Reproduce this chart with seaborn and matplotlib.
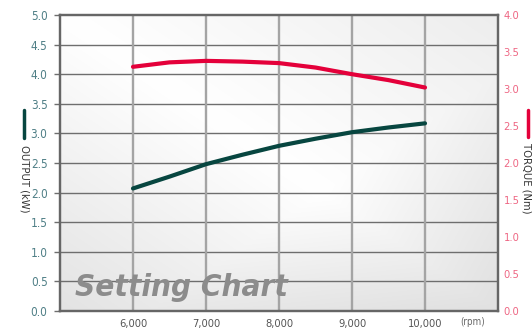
import numpy as np
import pandas as pd
import seaborn as sns
import matplotlib.pyplot as plt
from matplotlib.lines import Line2D

# values
rpm = [6000, 6500, 7000, 7500, 8000, 8500, 9000, 9500, 10000]
output_kw = [2.07, 2.27, 2.48, 2.64, 2.79, 2.91, 3.02, 3.10, 3.17]
torque_nm = [3.30, 3.36, 3.38, 3.37, 3.35, 3.29, 3.20, 3.12, 3.02]
x_ticks = [6000, 7000, 8000, 9000, 10000]
x_tick_labels = ['6,000', '7,000', '8,000', '9,000', '10,000']

df = pd.DataFrame({'rpm': rpm, 'output': output_kw, 'torque': torque_nm})

sns.set_style('white')
plt.rcParams['font.family'] = ['DejaVu Sans']
plt.rcParams['font.stretch'] = 'condensed'

W, H = 532, 332
fig = plt.figure(figsize=(W / 100, H / 100), dpi=100)
ax = fig.add_axes([60 / W, 21 / H, 438 / W, 296 / H])
ax2 = ax.twinx()

# background: white band along the diagonal, grey towards the corners
gx, gy = np.meshgrid(np.linspace(0, 1, 300), np.linspace(1, 0, 300))
d = (gx + gy - 1) / np.sqrt(2)
t = (gx - gy + 1) / 2
shade = np.where(d > 0, 0.07 * d / 0.707, 0.11 * (-d) / 0.707)
shade = shade + 0.12 * np.clip((t - 0.6) / 0.4, 0, 1)
shade = np.clip(shade, 0, 0.13)
rgb = np.dstack([1 - shade] * 3)
ax.imshow(rgb, extent=[0, 1, 0, 1], transform=ax.transAxes,
          aspect='auto', zorder=0, origin='upper')

ax.set_xlim(5000, 11000)
ax.set_ylim(0, 5)
ax2.set_ylim(0, 4)

# grid
for yv in np.arange(0.5, 5.0, 0.5):
    ax.axhline(yv, color='#6e6e6e', lw=1.0, zorder=1)
for xv in x_ticks:
    ax.axvline(xv, color='#a4a4a4', lw=1.7, zorder=1)

sns.lineplot(data=df, x='rpm', y='output', ax=ax, color='#074640', lw=3.0,
             zorder=3, legend=False)
sns.lineplot(data=df, x='rpm', y='torque', ax=ax2, color='#e4003a', lw=3.0,
             zorder=3, legend=False)

for a in (ax, ax2):
    a.set_xlabel('')
    a.set_ylabel('')
    for s in a.spines.values():
        s.set_color('#666666')
        s.set_linewidth(1.6)

ax.set_xticks(x_ticks)
ax.set_xticklabels(x_tick_labels)
ax.tick_params(axis='x', length=0, pad=6, labelsize=8, labelcolor='#555555')
ax.set_yticks(np.arange(0, 5.01, 0.5))
ax.set_yticklabels([f'{v:.1f}' for v in np.arange(0, 5.01, 0.5)])
ax.tick_params(axis='y', length=4, width=1, color='#6e6e6e', pad=5,
               labelsize=8.5, labelcolor='#4f7f86')
ax2.set_yticks(np.arange(0, 4.01, 0.5))
ax2.set_yticklabels([f'{v:.1f}' for v in np.arange(0, 4.01, 0.5)])
ax2.tick_params(axis='y', length=0, pad=4, labelsize=8, labelcolor='#ee6683')

ax.text(0.035, 0.05, 'Setting Chart', transform=ax.transAxes, fontsize=22.5,
        fontweight='bold', style='italic', color='#8c8c8c', zorder=2)

fig.text(460 / W, 1 - 322 / H, '(rpm)', fontsize=7, color='#666666',
         ha='left', va='center')

# axis labels with colour bars
fig.add_artist(Line2D([24 / W, 24 / W], [1 - 110 / H, 1 - 138 / H],
                      color='#074640', lw=2.5))
fig.text(24 / W, 1 - 145 / H, 'OUTPUT (kW)', rotation=-90, fontsize=8,
         color='#333333', ha='center', va='top')
fig.add_artist(Line2D([528 / W, 528 / W], [1 - 110 / H, 1 - 137 / H],
                      color='#e4003a', lw=2.5))
fig.text(526 / W, 1 - 143 / H, 'TORQUE (Nm)', rotation=-90, fontsize=8,
         color='#333333', ha='center', va='top')

fig.savefig('out.png', dpi=100)
